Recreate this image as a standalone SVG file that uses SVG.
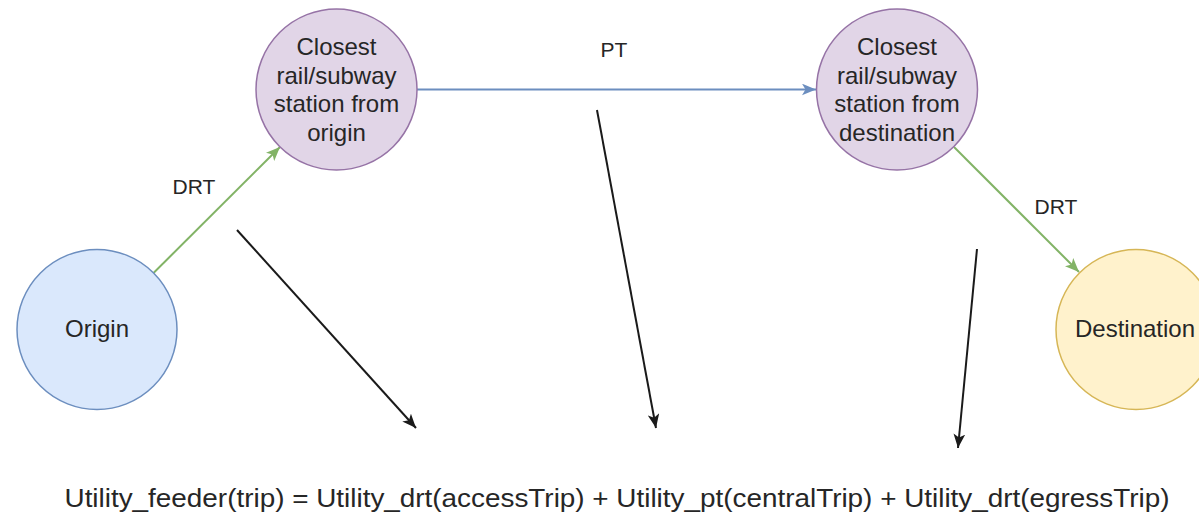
<svg xmlns="http://www.w3.org/2000/svg" width="1199" height="515" viewBox="0 0 1199 515">
<style>
text{font-family:"Liberation Sans",Arial,sans-serif;fill:#262626;text-anchor:middle}
.node{font-size:24px}
.lbl{font-size:21px}
.station{fill:#e1d5e7;stroke:#9673a6;stroke-width:1.5}
.origin{fill:#dae8fc;stroke:#6c8ebf;stroke-width:1.5}
.dest{fill:#fff2cc;stroke:#d6b656;stroke-width:1.5}
.g{stroke:#82b366;stroke-width:2;fill:none}
.b{stroke:#6c8ebf;stroke-width:2;fill:none}
.k{stroke:#1a1a1a;stroke-width:2;fill:none}
</style>
<defs>
<marker id="ag" viewBox="0 0 12 10" refX="12" refY="5" markerWidth="14" markerHeight="12" orient="auto" markerUnits="userSpaceOnUse"><path d="M0,0 L12,5 L0,10 L3,5 z" fill="#82b366"/></marker>
<marker id="ab" viewBox="0 0 12 10" refX="12" refY="5" markerWidth="14" markerHeight="12" orient="auto" markerUnits="userSpaceOnUse"><path d="M0,0 L12,5 L0,10 L3,5 z" fill="#6c8ebf"/></marker>
<marker id="ak" viewBox="0 0 12 10" refX="12" refY="5" markerWidth="14" markerHeight="12" orient="auto" markerUnits="userSpaceOnUse"><path d="M0,0 L12,5 L0,10 L3,5 z" fill="#1a1a1a"/></marker>
</defs>
<g id="connectors">
<line class="g" x1="153.5" y1="273" x2="280" y2="147" marker-end="url(#ag)"/>
<text class="lbl" x="194" y="194">DRT</text>
<line class="b" x1="417" y1="89.5" x2="816" y2="89.5" marker-end="url(#ab)"/>
<text class="lbl" x="614" y="57">PT</text>
<line class="g" x1="954" y1="147" x2="1079" y2="272" marker-end="url(#ag)"/>
<text class="lbl" x="1056" y="214">DRT</text>
<line class="k" x1="237" y1="230" x2="416" y2="428" marker-end="url(#ak)"/>
<line class="k" x1="597" y1="110" x2="656" y2="428" marker-end="url(#ak)"/>
<line class="k" x1="977" y1="249" x2="958" y2="448" marker-end="url(#ak)"/>
</g>
<g id="station-origin">
<circle class="station" cx="336.5" cy="89.5" r="80.5"/>
<text class="node" x="336.5" y="55">Closest</text>
<text class="node" x="336.5" y="83.5">rail/subway</text>
<text class="node" x="336.5" y="112">station from</text>
<text class="node" x="336.5" y="140.5">origin</text>
</g>
<g id="station-destination">
<circle class="station" cx="897" cy="89.5" r="80.5"/>
<text class="node" x="897" y="55">Closest</text>
<text class="node" x="897" y="83.5">rail/subway</text>
<text class="node" x="897" y="112">station from</text>
<text class="node" x="897" y="140.5">destination</text>
</g>
<g id="origin">
<circle class="origin" cx="97" cy="329.5" r="80"/>
<text class="node" x="97" y="337">Origin</text>
</g>
<g id="destination">
<circle class="dest" cx="1136" cy="329.5" r="80"/>
<text class="node" x="1135" y="337">Destination</text>
</g>
<g id="formula">
<text x="617" y="507" font-size="26" textLength="1105" lengthAdjust="spacingAndGlyphs">Utility_feeder(trip) = Utility_drt(accessTrip) + Utility_pt(centralTrip) + Utility_drt(egressTrip)</text>
</g>
</svg>
